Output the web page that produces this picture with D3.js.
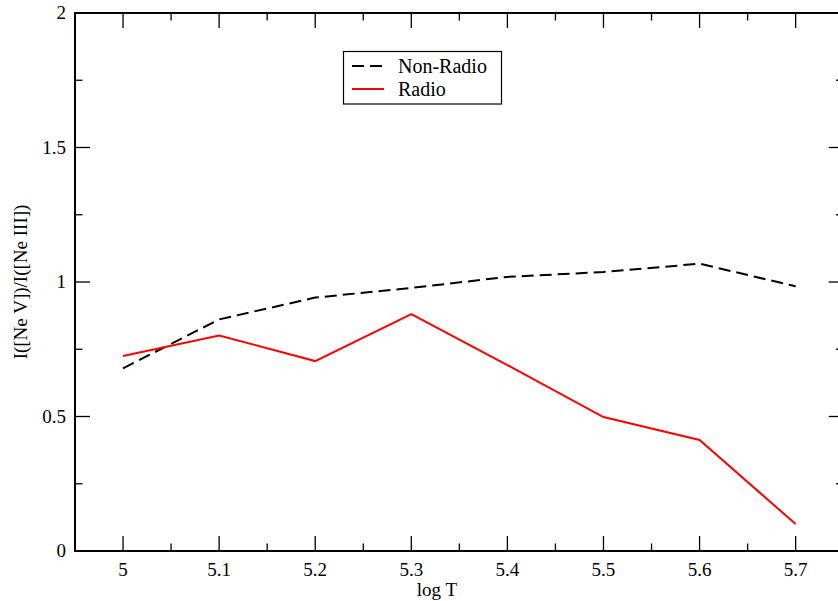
<!DOCTYPE html>
<html><head><meta charset="utf-8">
<script src="https://cdn.jsdelivr.net/npm/d3@7"></script>
<style>body{margin:0;background:#fff}svg{display:block}</style>
</head><body>
<script>
const logT = [5.0, 5.1, 5.2, 5.3, 5.4, 5.5, 5.6, 5.7];
const nonRadio = [0.679, 0.861, 0.942, 0.978, 1.019, 1.037, 1.068, 0.984];
const radio = [0.725, 0.801, 0.706, 0.881, 0.691, 0.498, 0.413, 0.100];
const xTicks = [5.0, 5.1, 5.2, 5.3, 5.4, 5.5, 5.6, 5.7];
const xMinor = [4.95, 5.05, 5.15, 5.25, 5.35, 5.45, 5.55, 5.65, 5.75];
const yTicks = [0, 0.5, 1, 1.5, 2];
const yMinor = [0.25, 0.75, 1.25, 1.75];
const seriesNames = ["Non-Radio", "Radio"];

const FONT = "'Liberation Serif', 'Times New Roman', Times, 'DejaVu Serif', serif";
const W = 838, H = 601;
const L = 75, T = 13, B = 551, R = 843.7;
const svg = d3.select("body").append("svg").attr("width", W).attr("height", H)
  .attr("font-family", FONT);
const x = d3.scaleLinear().domain([4.95, 5.75]).range([L, R]);
const y = d3.scaleLinear().domain([0, 2]).range([B, T]);

const g = svg.append("g");
g.append("rect").attr("x", L).attr("y", T).attr("width", R - L).attr("height", B - T)
  .attr("fill", "none").attr("stroke", "#000").attr("stroke-width", 2);

function tickLines(vals, len, horiz) {
  vals.forEach(v => {
    if (horiz) {
      const xv = x(v);
      g.append("line").attr("x1", xv).attr("x2", xv).attr("y1", B).attr("y2", B - len).attr("stroke", "#000").attr("stroke-width", 1.3);
      g.append("line").attr("x1", xv).attr("x2", xv).attr("y1", T).attr("y2", T + len).attr("stroke", "#000").attr("stroke-width", 1.3);
    } else {
      const yv = y(v);
      g.append("line").attr("x1", L).attr("x2", L + len).attr("y1", yv).attr("y2", yv).attr("stroke", "#000").attr("stroke-width", 1.3);
      g.append("line").attr("x1", R).attr("x2", R - len).attr("y1", yv).attr("y2", yv).attr("stroke", "#000").attr("stroke-width", 1.3);
    }
  });
}
tickLines(xTicks, 15, true);
tickLines(xMinor, 7.5, true);
tickLines(yTicks, 15, false);
tickLines(yMinor, 7.5, false);

xTicks.forEach(v => {
  g.append("text").attr("x", x(v)).attr("y", 576).attr("text-anchor", "middle")
    .attr("font-family", FONT).attr("font-size", 19).attr("fill", "#000").text(v);
});
yTicks.forEach(v => {
  g.append("text").attr("x", 66).attr("y", y(v) + 6).attr("text-anchor", "end")
    .attr("font-family", FONT).attr("font-size", 19).attr("fill", "#000").text(v);
});
svg.append("text").attr("x", 437).attr("y", 596).attr("text-anchor", "middle")
  .attr("font-family", FONT).attr("font-size", 19).text("log T");
svg.append("text").attr("transform", `translate(27,${(T + B) / 2}) rotate(-90)`)
  .attr("text-anchor", "middle").attr("font-family", FONT).attr("font-size", 19)
  .text("I([Ne V])/I([Ne III])");

const line = d3.line().x((d, i) => x(logT[i])).y(d => y(d));
g.append("path").datum(nonRadio).attr("d", line).attr("fill", "none")
  .attr("stroke", "#000").attr("stroke-width", 2).attr("stroke-dasharray", "12,6");
g.append("path").datum(radio).attr("d", line).attr("fill", "none")
  .attr("stroke", "#ff0000").attr("stroke-width", 2);

const lg = svg.append("g");
lg.append("rect").attr("x", 343.5).attr("y", 51.5).attr("width", 158).attr("height", 52.5)
  .attr("fill", "#fff").attr("stroke", "#000").attr("stroke-width", 1.2);
lg.append("line").attr("x1", 352).attr("x2", 384).attr("y1", 66).attr("y2", 66)
  .attr("stroke", "#000").attr("stroke-width", 2).attr("stroke-dasharray", "12,6");
lg.append("line").attr("x1", 352).attr("x2", 384).attr("y1", 89).attr("y2", 89)
  .attr("stroke", "#ff0000").attr("stroke-width", 2);
lg.append("text").attr("x", 398).attr("y", 73).attr("font-family", FONT).attr("font-size", 20).text(seriesNames[0]);
lg.append("text").attr("x", 398).attr("y", 96).attr("font-family", FONT).attr("font-size", 20).text(seriesNames[1]);
</script>
</body></html>
